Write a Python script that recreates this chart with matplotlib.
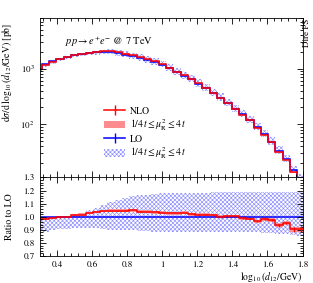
import numpy as np
import matplotlib
matplotlib.use("Agg")
import matplotlib.pyplot as plt
from matplotlib.lines import Line2D
from matplotlib.patches import Patch
from matplotlib.ticker import MultipleLocator, FormatStrFormatter, LogLocator, NullFormatter

plt.rcParams['font.family'] = ['STIXGeneral', 'DejaVu Serif']
plt.rcParams['mathtext.fontset'] = 'stix'
HATCH_COL = (0.55, 0.55, 1.0)
plt.rcParams['hatch.color'] = HATCH_COL
plt.rcParams['hatch.linewidth'] = 0.45

# ---- data -------------------------------------------------------------
bin_edges = [0.2708, 0.3125, 0.3542, 0.3958, 0.4375, 0.4792, 0.5208, 0.5625,
             0.6042, 0.6458, 0.6875, 0.7292, 0.7708, 0.8125, 0.8542, 0.8958,
             0.9375, 0.9792, 1.0208, 1.0625, 1.1042, 1.1458, 1.1875, 1.2292,
             1.2708, 1.3125, 1.3542, 1.3958, 1.4375, 1.4792, 1.5208, 1.5625,
             1.6042, 1.6458, 1.6875, 1.7292, 1.7708, 1.8125]

lo_xsec = [982, 1198, 1349, 1483, 1604, 1747, 1834, 1883, 1950, 1995, 1991,
           1906, 1777, 1680, 1542, 1422, 1312, 1180, 1012, 860, 748, 640, 537,
           448, 366, 301, 238, 190, 150, 119.5, 90, 66.1, 48.6, 33.5, 23.8,
           15.1, 10.8]

nlo_ratio = [0.985, 0.985, 0.990, 0.995, 1.000, 1.010, 1.015, 1.030, 1.037,
             1.043, 1.045, 1.047, 1.047, 1.050, 1.040, 1.038, 1.035, 1.030,
             1.028, 1.028, 1.030, 1.020, 1.016, 1.016, 1.012, 1.000, 1.005,
             1.003, 0.990, 0.985, 0.964, 0.982, 0.977, 0.935, 0.952, 0.905,
             0.905]

nlo_band_halfwidth = [0.008, 0.008, 0.008, 0.008, 0.009, 0.009, 0.010, 0.010,
                      0.010, 0.010, 0.011, 0.011, 0.011, 0.011, 0.011, 0.011,
                      0.011, 0.011, 0.011, 0.011, 0.011, 0.011, 0.011, 0.011,
                      0.012, 0.012, 0.012, 0.012, 0.013, 0.013, 0.014, 0.014,
                      0.015, 0.016, 0.017, 0.018, 0.020]

nlo_stat_err = [0.002, 0.002, 0.002, 0.002, 0.002, 0.002, 0.002, 0.002,
                0.002, 0.002, 0.002, 0.002, 0.002, 0.002, 0.002, 0.002,
                0.002, 0.002, 0.002, 0.002, 0.002, 0.002, 0.003, 0.003,
                0.003, 0.006, 0.004, 0.004, 0.006, 0.006, 0.006, 0.007,
                0.008, 0.010, 0.010, 0.018, 0.022]

lo_band_low = [0.875, 0.885, 0.895, 0.905, 0.910, 0.915, 0.915, 0.915, 0.913,
               0.905, 0.900, 0.900, 0.897, 0.895, 0.890, 0.888, 0.887, 0.885,
               0.885, 0.885, 0.885, 0.885, 0.884, 0.884, 0.883, 0.883, 0.882,
               0.882, 0.881, 0.880, 0.880, 0.878, 0.875, 0.870, 0.865, 0.860,
               0.850]

lo_band_high = [0.998, 0.998, 0.998, 1.000, 1.000, 1.015, 1.030, 1.050, 1.065,
                1.090, 1.115, 1.130, 1.145, 1.155, 1.165, 1.170, 1.175, 1.180,
                1.180, 1.182, 1.183, 1.184, 1.185, 1.185, 1.186, 1.186, 1.187,
                1.187, 1.188, 1.188, 1.188, 1.190, 1.190, 1.190, 1.190, 1.190,
                1.190]

x_ticks = [0.4, 0.6, 0.8, 1.0, 1.2, 1.4, 1.6, 1.8]
ratio_ticks = [0.7, 0.8, 0.9, 1.0, 1.1, 1.2, 1.3]

# ---- derived ----------------------------------------------------------
edges = np.array(bin_edges)
lo = np.array(lo_xsec)
r_nlo = np.array(nlo_ratio)
nlo = lo * r_nlo
hw = np.array(nlo_band_halfwidth)
blo = np.array(lo_band_low)
bhi = np.array(lo_band_high)
centers = 0.5 * (edges[:-1] + edges[1:])

RED = '#ff0000'
BLUE = '#0000ff'
SALMON = '#ff8c8c'
HATCH = 'xxxxxxxx'

fig = plt.figure(figsize=(3.13, 2.83), dpi=100)
ax = fig.add_axes([0.1262, 0.3728, 0.8403, 0.5625])
rax = fig.add_axes([0.1262, 0.0954, 0.8403, 0.2774], sharex=ax)

# main panel
ax.stairs(lo * bhi, edges, baseline=lo * blo, fill=True, facecolor='none',
          edgecolor=HATCH_COL, hatch=HATCH, linewidth=0)
ax.stairs(nlo * (1 + hw), edges, baseline=nlo * (1 - hw), fill=True,
          facecolor=SALMON, edgecolor='none', alpha=0.9)
ax.stairs(lo, edges, color=BLUE, linewidth=1.1)
ax.stairs(nlo, edges, color=RED, linewidth=1.1)
ax.set_yscale('log')
ax.set_xlim(0.3, 1.8)
ax.set_ylim(11, 8000)

# ratio panel
rax.stairs(bhi, edges, baseline=blo, fill=True, facecolor='none',
           edgecolor=HATCH_COL, hatch=HATCH, linewidth=0)
rax.stairs(r_nlo + hw, edges, baseline=r_nlo - hw, fill=True,
           facecolor=SALMON, edgecolor='none', alpha=0.9)
rax.stairs(lo / lo, edges, color=BLUE, linewidth=1.1)
rax.stairs(r_nlo, edges, color=RED, linewidth=1.1)
rax.errorbar(centers, r_nlo, yerr=np.array(nlo_stat_err), fmt='none',
             ecolor=RED, elinewidth=1.0)
rax.set_ylim(0.7, 1.3)

# ticks
for a in (ax, rax):
    a.tick_params(which='both', direction='in', top=True, right=True,
                  labelsize=6.5, width=0.6)
    a.tick_params(which='major', length=4.5)
    a.tick_params(which='minor', length=2.3)
    for s in a.spines.values():
        s.set_linewidth(0.6)
ax.xaxis.set_major_locator(MultipleLocator(0.2))
ax.xaxis.set_minor_locator(MultipleLocator(0.04))
ax.tick_params(labelbottom=False)
ax.yaxis.set_major_locator(LogLocator(base=10))
ax.yaxis.set_minor_locator(LogLocator(base=10, subs=np.arange(2, 10)))
ax.yaxis.set_minor_formatter(NullFormatter())
rax.set_xticks(x_ticks)
rax.set_xticklabels(['%g' % v for v in x_ticks])
rax.xaxis.set_minor_locator(MultipleLocator(0.04))
rax.set_yticks(ratio_ticks)
rax.yaxis.set_major_formatter(FormatStrFormatter('%.1f'))
rax.yaxis.set_minor_locator(MultipleLocator(0.02))
ax.set_xlim(0.3, 1.8)

# labels
ax.set_ylabel(r'$\mathrm{d}\sigma/\mathrm{d}\,\log_{10}(d_{12}/\mathrm{GeV})$ [pb]',
              fontsize=7, loc='top')
ax.yaxis.set_label_coords(-0.098, 0.975)
rax.set_ylabel('Ratio to LO', fontsize=7)
rax.yaxis.set_label_coords(-0.098, 0.5)
rax.set_xlabel(r'$\log_{10}(d_{12}/\mathrm{GeV})$', fontsize=7, loc='right')
rax.xaxis.set_label_coords(1.0, -0.18)

ax.text(0.097, 0.851, r'$pp \rightarrow e^{+}e^{-}$ @ 7 TeV', transform=ax.transAxes,
        fontsize=7.5, ha='left', va='center')
fig.text(0.981, 0.935, 'Dire PS', rotation=90, ha='center', va='top', fontsize=6.5)

band_label = r'$1/4\,t \leq \mu_\mathrm{R}^2 \leq 4\,t$'
handles = [
    Line2D([], [], color=RED, lw=1.1, marker='|', markersize=7, markeredgewidth=1.0),
    Patch(facecolor=SALMON, edgecolor='none'),
    Line2D([], [], color=BLUE, lw=1.1, marker='|', markersize=7, markeredgewidth=1.0),
    Patch(facecolor='none', edgecolor=HATCH_COL, hatch=HATCH, linewidth=0),
]
ax.legend(handles, ['NLO', band_label, 'LO', band_label], loc='upper left',
          bbox_to_anchor=(0.245, 0.45), frameon=False, fontsize=7,
          borderpad=0, borderaxespad=0, handlelength=2.2, handletextpad=0.5,
          labelspacing=0.15, handleheight=0.8)

fig.savefig('out.png', dpi=100)
